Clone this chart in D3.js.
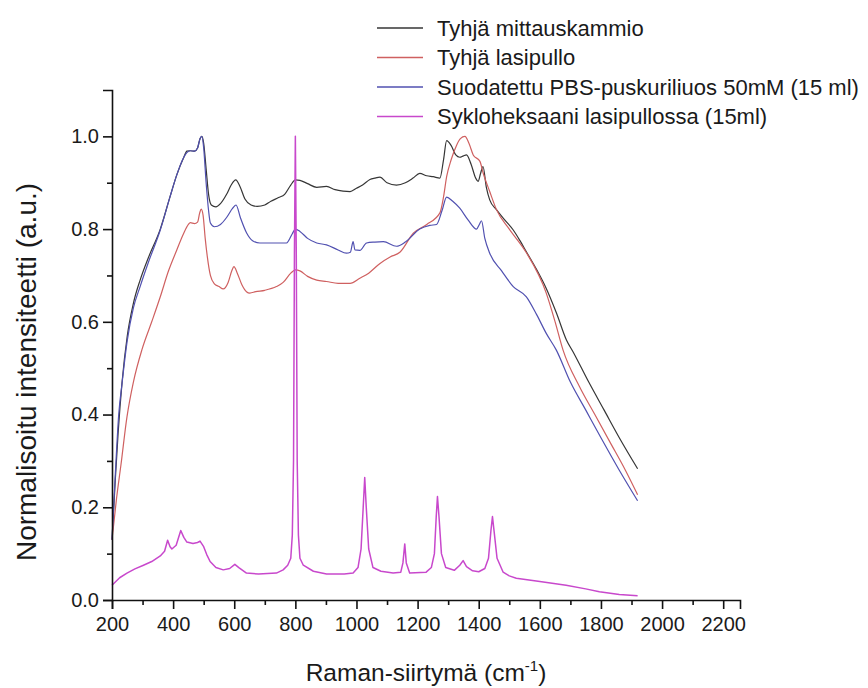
<!DOCTYPE html>
<html>
<head>
<meta charset="utf-8">
<script src="https://cdn.jsdelivr.net/npm/d3@7"></script>
<style>
  html, body { margin: 0; padding: 0; background: #fff; }
  text { font-family: "Liberation Sans", Arial, sans-serif; fill: #1a1a1a; }
</style>
</head>
<body>
<svg id="chart" width="868" height="688"></svg>
<script>
// ---- data ----
const seriesNames = ["Tyhjä mittauskammio", "Tyhjä lasipullo", "Suodatettu PBS-puskuriliuos 50mM (15 ml)", "Sykloheksaani lasipullossa (15ml)"];
const seriesColors = ["#363636", "#cf6060", "#5050b0", "#c848cc"];

const xTicks = [200, 400, 600, 800, 1000, 1200, 1400, 1600, 1800, 2000, 2200];
const yTicks = [0.0, 0.2, 0.4, 0.6, 0.8, 1.0];

const blackData = [[200,0.13],[210,0.25],[220,0.36],[233,0.47],[250,0.57],[270,0.64],[292,0.69],[320,0.74],[358,0.80],[390,0.87],[412,0.917],[435,0.955],[445,0.968],[456,0.969],[470,0.968],[480,0.975],[488,0.995],[494,1.0],[500,0.985],[508,0.93],[516,0.875],[525,0.852],[540,0.848],[555,0.855],[575,0.875],[590,0.895],[605,0.906],[618,0.893],[635,0.865],[655,0.852],[675,0.849],[700,0.852],[720,0.86],[745,0.868],[765,0.875],[785,0.895],[800,0.906],[815,0.905],[840,0.898],[870,0.89],[902,0.892],[930,0.885],[956,0.882],[979,0.881],[1000,0.888],[1020,0.895],[1044,0.907],[1060,0.91],[1077,0.912],[1100,0.9],[1131,0.895],[1160,0.9],[1185,0.91],[1207,0.92],[1230,0.915],[1251,0.913],[1273,0.91],[1285,0.95],[1295,0.991],[1310,0.98],[1325,0.96],[1338,0.955],[1350,0.958],[1360,0.96],[1375,0.94],[1390,0.91],[1398,0.903],[1406,0.92],[1414,0.935],[1425,0.89],[1436,0.863],[1458,0.842],[1485,0.82],[1513,0.798],[1535,0.775],[1556,0.751],[1590,0.712],[1621,0.672],[1655,0.618],[1687,0.561],[1709,0.535],[1760,0.47],[1810,0.41],[1860,0.35],[1920,0.283]];

const redData = [[200,0.13],[215,0.22],[229,0.29],[249,0.395],[270,0.47],[298,0.54],[330,0.60],[358,0.654],[385,0.71],[412,0.755],[434,0.79],[450,0.81],[456,0.814],[470,0.812],[480,0.815],[487,0.835],[492,0.843],[498,0.83],[505,0.78],[512,0.74],[522,0.70],[535,0.682],[550,0.676],[564,0.671],[580,0.685],[592,0.71],[599,0.719],[610,0.705],[625,0.68],[640,0.665],[651,0.662],[670,0.665],[700,0.668],[738,0.676],[760,0.685],[785,0.705],[800,0.712],[815,0.71],[840,0.698],[870,0.69],[902,0.687],[940,0.683],[979,0.683],[1011,0.694],[1040,0.705],[1077,0.726],[1110,0.74],[1142,0.75],[1186,0.791],[1230,0.81],[1273,0.835],[1285,0.87],[1295,0.913],[1310,0.95],[1327,0.98],[1340,0.995],[1355,1.0],[1368,0.985],[1382,0.96],[1404,0.946],[1415,0.92],[1436,0.881],[1458,0.842],[1500,0.8],[1556,0.749],[1621,0.662],[1650,0.60],[1676,0.539],[1730,0.46],[1780,0.40],[1830,0.34],[1880,0.28],[1920,0.227]];

const blueData = [[200,0.13],[210,0.26],[222,0.40],[233,0.468],[250,0.56],[270,0.63],[292,0.676],[320,0.73],[358,0.798],[390,0.87],[412,0.917],[435,0.955],[445,0.965],[456,0.969],[470,0.968],[480,0.975],[488,0.995],[494,1.0],[500,0.975],[508,0.9],[516,0.84],[522,0.813],[535,0.805],[555,0.81],[575,0.825],[595,0.845],[606,0.852],[620,0.825],[641,0.791],[660,0.775],[684,0.77],[720,0.77],[771,0.77],[790,0.79],[800,0.80],[815,0.795],[840,0.78],[870,0.77],[902,0.766],[940,0.755],[967,0.748],[980,0.75],[989,0.773],[995,0.755],[1011,0.754],[1033,0.77],[1060,0.772],[1088,0.773],[1131,0.763],[1160,0.772],[1207,0.80],[1240,0.808],[1262,0.81],[1280,0.84],[1295,0.869],[1315,0.86],[1338,0.845],[1365,0.82],[1393,0.80],[1402,0.81],[1409,0.818],[1420,0.78],[1436,0.748],[1475,0.71],[1513,0.676],[1556,0.654],[1590,0.615],[1621,0.575],[1654,0.539],[1700,0.47],[1750,0.41],[1800,0.35],[1860,0.28],[1920,0.214]];

const magentaData = [[200,0.032],[225,0.048],[249,0.058],[275,0.067],[303,0.075],[330,0.083],[358,0.095],[372,0.105],[382,0.129],[390,0.115],[396,0.11],[410,0.118],[425,0.150],[435,0.135],[445,0.125],[465,0.122],[480,0.124],[488,0.127],[500,0.115],[510,0.098],[521,0.083],[540,0.07],[564,0.065],[585,0.068],[602,0.077],[615,0.07],[640,0.058],[680,0.056],[738,0.058],[760,0.065],[775,0.075],[785,0.09],[790,0.14],[794,0.3],[797,0.75],[800,1.0],[803,0.75],[806,0.3],[810,0.14],[815,0.09],[826,0.075],[859,0.062],[902,0.056],[960,0.056],[989,0.058],[1005,0.07],[1015,0.11],[1022,0.2],[1027,0.264],[1032,0.2],[1040,0.11],[1054,0.07],[1080,0.062],[1120,0.058],[1145,0.06],[1152,0.08],[1158,0.121],[1163,0.08],[1174,0.058],[1228,0.06],[1245,0.07],[1255,0.1],[1261,0.18],[1265,0.223],[1270,0.18],[1278,0.1],[1292,0.07],[1320,0.064],[1338,0.075],[1349,0.085],[1360,0.072],[1380,0.063],[1400,0.061],[1420,0.068],[1432,0.09],[1440,0.15],[1445,0.18],[1450,0.15],[1460,0.09],[1480,0.06],[1500,0.052],[1523,0.047],[1600,0.04],[1686,0.032],[1750,0.024],[1795,0.018],[1860,0.012],[1920,0.009]];

const allSeries = [blackData, redData, blueData, magentaData];

// ---- layout ----
const svg = d3.select("#chart");
const x = d3.scaleLinear().domain([200, 2255]).range([112, 740]);
const y = d3.scaleLinear().domain([0, 1.1]).range([600, 90]);

const lineSmooth = d3.line().x(d => x(d[0])).y(d => y(d[1])).curve(d3.curveMonotoneX);
const lineSharp = d3.line().x(d => x(d[0])).y(d => y(d[1])).curve(d3.curveLinear);

allSeries.forEach((data, i) => {
  svg.append("path")
    .datum(data)
    .attr("fill", "none")
    .attr("stroke", seriesColors[i])
    .attr("stroke-width", i === 3 ? 1.5 : 1.2)
    .attr("stroke-linejoin", "round")
    .attr("d", i === 3 ? lineSharp : lineSmooth);
});

// axes
const xMinor = d3.range(300, 2255, 200);
const yMinor = d3.range(0.1, 1.1, 0.2);

const gx = svg.append("g").attr("transform", "translate(0,600)");
gx.call(d3.axisBottom(x).tickValues(xTicks).tickSize(9).tickPadding(4).tickFormat(d3.format("d")));
const gxm = svg.append("g").attr("transform", "translate(0,600)");
gxm.call(d3.axisBottom(x).tickValues(xMinor).tickSize(5).tickFormat(""));
gxm.select(".domain").remove();

const gy = svg.append("g").attr("transform", "translate(112,0)");
gy.call(d3.axisLeft(y).tickValues(yTicks).tickSize(9).tickPadding(4).tickFormat(d3.format(".1f")));
const gym = svg.append("g").attr("transform", "translate(112,0)");
gym.call(d3.axisLeft(y).tickValues(yMinor).tickSize(5).tickFormat(""));
gym.select(".domain").remove();

svg.selectAll(".domain").attr("stroke", "#111").attr("stroke-width", 1.6);
svg.selectAll(".tick line").attr("stroke", "#111").attr("stroke-width", 1.6);
svg.selectAll(".tick text").attr("font-size", 20).attr("font-family", "Liberation Sans, Arial, sans-serif").attr("fill", "#1a1a1a");
gx.selectAll(".tick text").attr("dy", "0.9em");

// axis titles
const xt = svg.append("text")
  .attr("x", 426).attr("y", 681)
  .attr("text-anchor", "middle")
  .attr("font-size", 24.5);
xt.append("tspan").text("Raman-siirtymä (cm");
xt.append("tspan").attr("font-size", 15).attr("dy", -10).text("-1");
xt.append("tspan").attr("dy", 10).text(")");

svg.append("text")
  .attr("transform", "translate(36,372) rotate(-90)")
  .attr("text-anchor", "middle")
  .attr("font-size", 28)
  .text("Normalisoitu intensiteetti (a.u.)");

// legend
const legendY0 = 28, legendDY = 29.5;
seriesNames.forEach((name, i) => {
  const ly = legendY0 + i * legendDY;
  svg.append("line")
    .attr("x1", 377).attr("x2", 423)
    .attr("y1", ly).attr("y2", ly)
    .attr("stroke", seriesColors[i]).attr("stroke-width", 1.3);
  svg.append("text")
    .attr("x", 437).attr("y", ly)
    .attr("dy", "0.36em")
    .attr("font-size", 22)
    .text(name);
});
</script>
</body>
</html>
